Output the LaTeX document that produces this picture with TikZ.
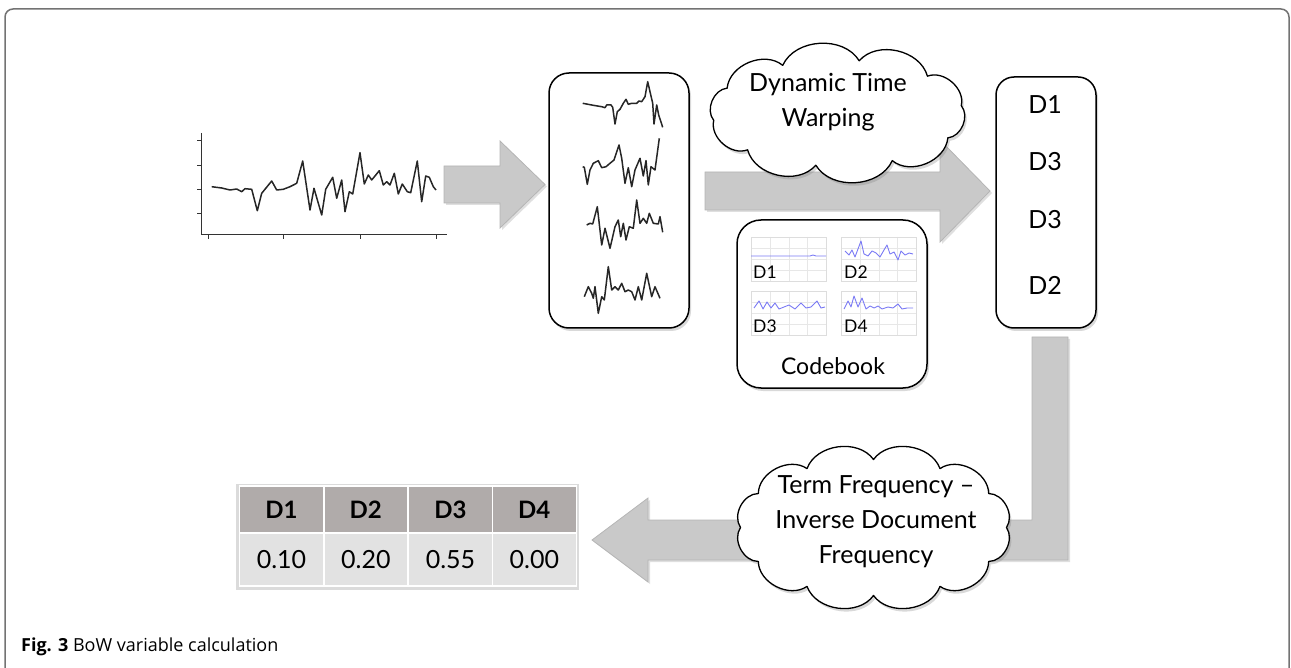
\documentclass[tikz,border=0pt]{standalone}
\usepackage{fontspec}
\setmainfont{Lato}
\newfontfamily\capfont{Open Sans}
\usetikzlibrary{shadows}
\definecolor{arrowgray}{HTML}{C9C9C9}
\definecolor{arrowedge}{HTML}{B5B5B5}
\definecolor{headgray}{HTML}{B0ABAA}
\definecolor{cellgray}{HTML}{E2E2E2}
\definecolor{plotblue}{HTML}{7A7AF5}
\definecolor{gridgray}{HTML}{DDDDDD}
% custom cloud: centre x, centre y, radius x, radius y, puffs, start angle
\newcommand\mycloud[6]{%
  \draw[cloudline] ({#1+#3*cos(#6)},{#2+#4*sin(#6)})
    foreach \k in {1,...,#5} { to[bend left=62] ({#1+#3*cos(#6+\k*360/#5)},{#2+#4*sin(#6+\k*360/#5)}) } -- cycle;}
\begin{document}
\begin{tikzpicture}[x=1pt,y=-1pt,
  sline/.style={line width=1.5pt, black!85, line join=round},
  blk/.style={fill=arrowgray, draw=arrowedge, line width=0.8pt,
    drop shadow={opacity=0.25, shadow xshift=2pt, shadow yshift=-2pt}},
  rbox/.style={draw=black, line width=1.5pt, fill=white, rounded corners=18pt,
    drop shadow={opacity=0.3, shadow xshift=2pt, shadow yshift=-3pt}},
  cloudline/.style={draw=black, line width=1.3pt, fill=white, line join=round,
    drop shadow={opacity=0.3, shadow xshift=2pt, shadow yshift=-3pt}},
  ctext/.style={align=center, inner sep=0pt, font=\fontsize{25}{35}\selectfont},
  lbl/.style={font=\fontsize{25}{28}\selectfont, inner sep=0pt},
  small/.style={font=\fontsize{17.5}{19}\selectfont, inner sep=0pt, anchor=west},
  hcell/.style={fill=headgray, draw=white, line width=1.5pt, minimum width=84, minimum height=47,
    inner sep=0pt, font=\fontsize{24}{26}\selectfont\bfseries},
  vcell/.style={fill=cellgray, draw=white, line width=1.5pt, minimum width=84, minimum height=53,
    inner sep=0pt, font=\fontsize{25}{26}\selectfont},
  pframe/.style={draw=gridgray, line width=0.6pt},
  pline/.style={plotblue, line width=0.9pt, line join=round}
]
\useasboundingbox (0,0) rectangle (1291,668);
% outer frame
\begin{scope}
\clip (0,0) rectangle (1291,668);
\draw[black!55, line width=1.5pt, rounded corners=8pt] (5,720) -- (5,9) -- (1289,9) -- (1289,720);
\end{scope}

% ---- input time series chart
\draw[black!80, line width=1pt] (201,133) -- (201,235) -- (447,235);
\foreach \yy in {141,166,190,214} \draw[black!80, line width=1pt] (197,\yy) -- (201,\yy);
\foreach \xx in {208,283,360,436} \draw[black!80, line width=1pt] (\xx,235) -- (\xx,239);
\draw[sline] (211.7,186.7) -- (221.7,188) -- (230,190) -- (236.7,189) -- (241.7,191.7) -- (245,188.7)
 -- (251.7,189.3) -- (257.3,210.7) -- (261.7,193.3) -- (271.7,181) -- (276.7,190) -- (283.3,189.3)
 -- (290,186.7) -- (296.7,183.3) -- (302.7,161) -- (310,210) -- (314,188.3) -- (321.7,215)
 -- (325.7,189.3) -- (332.7,177.3) -- (336.7,198.3) -- (341.7,180) -- (345,211.7) -- (349.3,191.7)
 -- (352.7,194) -- (360,152.7) -- (364.3,184) -- (368.3,175) -- (371.7,180) -- (379.3,170.7)
 -- (383.3,185) -- (386.7,181.7) -- (390,185) -- (394.3,173.3) -- (398.3,194) -- (402.3,184)
 -- (407.3,191.7) -- (410.7,192.7) -- (417.3,161) -- (421.7,201.7) -- (425.7,176) -- (429.3,177.3)
 -- (433.3,186.7) -- (436,190);

% ---- block arrows
\draw[blk] (444,166) -- (500,166) -- (500,141) -- (545,184.5) -- (500,228) -- (500,203) -- (444,203) -- cycle;
\draw[blk] (705,172) -- (940,172) -- (940,140) -- (990,191) -- (940,242) -- (940,210) -- (705,210) -- cycle;
\draw[blk] (1032,337) -- (1068,337) -- (1068,560) -- (648,560) -- (648,582) -- (592,540) -- (648,498)
 -- (648,520) -- (1032,520) -- cycle;

% ---- segments box
\node[rbox, rounded corners=20pt, minimum width=140, minimum height=255] (seg) at (619,200.5) {};
\draw[sline] (582.7,103.3) -- (593.3,105.3) -- (601.7,106.7) -- (605,107.7) -- (606.7,105) -- (611,105)
 -- (612.7,107.3) -- (615,124) -- (617.3,111.7) -- (620,109.3) -- (623.3,103.3) -- (626,99.3)
 -- (628.3,104.3) -- (631.7,103.3) -- (636.7,103.3) -- (639,101) -- (641.7,101.7) -- (645,96.7)
 -- (647.7,81.7) -- (650,91.7) -- (652.7,103.3) -- (654,124) -- (656.7,105) -- (658.7,115) -- (662.7,127.3);
\draw[sline] (582.7,166.7) -- (584.3,167.3) -- (587.3,184.3) -- (590,170) -- (593.3,163.3) -- (598.3,160.7)
 -- (601.7,167.7) -- (606,166.7) -- (610,163.3) -- (614,160) -- (619,145) -- (621.7,158.3) -- (625,183.3)
 -- (628.3,167.7) -- (631.7,186.7) -- (635,170) -- (640,158.3) -- (643.3,176) -- (646,160.7)
 -- (648.3,185) -- (651,166.7) -- (655,170) -- (659.3,138.3);
\draw[sline] (586.7,225) -- (590,223.3) -- (592.7,224) -- (597.3,206.7) -- (601.7,245) -- (605,228.3)
 -- (610,248.3) -- (615,226.7) -- (618.3,220) -- (620.7,236.7) -- (623.3,223.3) -- (626,240)
 -- (629.3,226.7) -- (633.3,228.3) -- (636.7,200) -- (640,223.3) -- (643.3,218.3) -- (646.7,223.3)
 -- (649.3,213.3) -- (653.3,223.3) -- (658.3,224) -- (660,216.7) -- (662.7,232.3);
\draw[sline] (584.3,296.7) -- (588.3,286.7) -- (591.7,293.3) -- (593.3,298.3) -- (595,286.7) -- (598.3,313.3)
 -- (601.7,296.7) -- (604.3,300) -- (608.3,266.7) -- (611.7,290) -- (615,286.7) -- (618.3,290)
 -- (621.7,283.3) -- (625,291.7) -- (628.3,290) -- (631.7,291.7) -- (635,300) -- (638.3,286.7)
 -- (641.7,300) -- (646.7,273.3) -- (651.7,296.7) -- (655,286.7) -- (660,298.3);

% ---- DTW cloud
\mycloud{837.5}{113}{125}{53}{10}{28}
\node[ctext] (dtwt) at (828,102.5) {Dynamic Time\\Warping};

% ---- codebook
\node[rbox, rounded corners=24pt, minimum width=190, minimum height=168] (cb) at (832,304) {};
\foreach \px/\py in {751/237, 841/237, 751/291, 841/291}{
  \begin{scope}[shift={(\px,\py)}]
    \foreach \g in {19,38,56} \draw[gridgray!70, line width=0.4pt] (\g,0) -- (\g,44);
    \foreach \g in {11,22,33} \draw[gridgray!70, line width=0.4pt] (0,\g) -- (75,\g);
    \draw[pframe] (0,0) rectangle (75,44);
  \end{scope}
}
\draw[pline] (751,256) -- (810,256) -- (813,255) -- (816,256) -- (826,256);
\begin{scope}[shift={(841,237)}]
\draw[pline] (4,14) -- (8,18) -- (11,13) -- (14,20) -- (17,12) -- (20,4) -- (23,17) -- (27,19) -- (31,14)
 -- (35,16) -- (39,20) -- (43,13) -- (46,8) -- (49,17) -- (53,15) -- (57,23) -- (60,14) -- (64,18) -- (68,16) -- (72,17);
\end{scope}
\begin{scope}[shift={(751,291)}]
\draw[pline] (3,17) -- (8,10) -- (12,18) -- (16,11) -- (20,17) -- (24,12) -- (28,18) -- (33,16) -- (38,14)
 -- (44,18) -- (50,12) -- (55,17) -- (60,16) -- (66,10) -- (70,17) -- (74,16);
\end{scope}
\begin{scope}[shift={(841,291)}]
\draw[pline] (3,18) -- (7,10) -- (10,16) -- (13,5) -- (17,16) -- (21,7) -- (25,18) -- (29,15) -- (33,17)
 -- (37,15) -- (41,18) -- (47,16) -- (52,17) -- (57,13) -- (61,18) -- (66,17) -- (72,17);
\end{scope}
\node[small] (cd1) at (753,272) {D1};
\node[small] (cd2) at (844,272) {D2};
\node[small] (cd3) at (753,326) {D3};
\node[small] (cd4) at (844,326) {D4};
\node[font=\fontsize{23}{26}\selectfont, inner sep=0pt] (cbt) at (833,366) {Codebook};

% ---- word sequence box
\node[rbox, minimum width=100, minimum height=251] (seq) at (1046,202.5) {};
\node[lbl] (w1) at (1045,105) {D1};
\node[lbl] (w2) at (1045,162) {D3};
\node[lbl] (w3) at (1045,220) {D3};
\node[lbl] (w4) at (1045,285) {D2};

% ---- TF-IDF cloud
\mycloud{873.5}{527.5}{133}{68}{12}{0}
\node[ctext] (tfidft) at (876,521.5) {Term Frequency --\\Inverse Document\\Frequency};

% ---- table
\fill[black!40, opacity=0.35] (236,484) rectangle (579,590);
\node[hcell] (h1) at (281.5,509.5) {D1};
\node[hcell] (h2) at (365.8,509.5) {D2};
\node[hcell] (h3) at (450.5,509.5) {D3};
\node[hcell] (h4) at (534.3,509.5) {D4};
\node[vcell] (v1) at (281.5,559.5) {0.10};
\node[vcell] (v2) at (365.8,559.5) {0.20};
\node[vcell] (v3) at (450.5,559.5) {0.55};
\node[vcell] (v4) at (534.3,559.5) {0.00};

% ---- caption
\node[anchor=west, inner sep=0pt, font=\capfont\fontsize{18}{22}\selectfont] (cap) at (21,647)
 {\textbf{Fig. 3} BoW variable calculation};
\end{tikzpicture}
\end{document}
